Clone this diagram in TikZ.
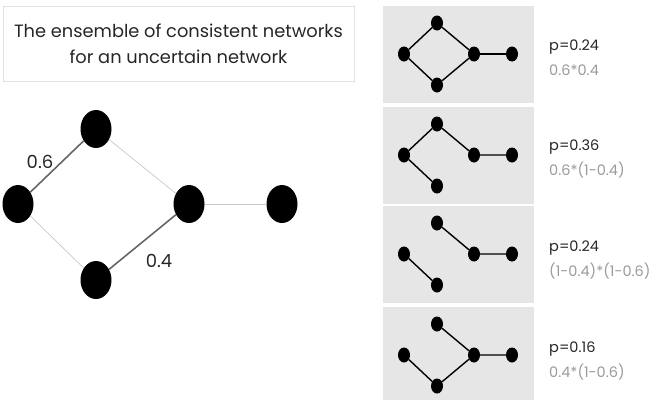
\documentclass[tikz,border=0pt]{standalone}
\usepackage{fontspec}
\setmainfont{Poppins}
\usepackage{xcolor}
\usetikzlibrary{positioning,shapes.geometric}

\definecolor{panelgray}{HTML}{E6E6E6}
\definecolor{boxgray}{HTML}{E2E2E2}
\definecolor{lightedge}{HTML}{C8C8C8}
\definecolor{darkedge}{HTML}{666666}
\definecolor{formulagray}{HTML}{9A9A9A}

\begin{document}
\begin{tikzpicture}[x=1pt, y=-1pt,
  big/.style={ellipse, fill=black, inner sep=0pt, minimum width=31pt, minimum height=38pt},
  small/.style={ellipse, fill=black, inner sep=0pt, minimum width=12pt, minimum height=15pt},
  weak/.style={draw=lightedge, line width=0.7pt},
  strong/.style={draw=darkedge, line width=1.6pt},
  kept/.style={draw=black, line width=1.4pt},
  panel/.style={fill=panelgray, inner sep=0pt, minimum width=151pt, minimum height=97pt},
  prob/.style={anchor=west, inner sep=0pt, font=\fontsize{14.5}{16}\selectfont, text=black!85},
  formula/.style={anchor=west, inner sep=0pt, font=\fontsize{14.5}{16}\selectfont, text=formulagray}]
\useasboundingbox (0,0) rectangle (658,399);

% title
\node[draw=boxgray, line width=0.8pt, minimum width=351pt, minimum height=75pt, align=center,
  font=\fontsize{17.8}{26}\selectfont, text=black!85] (title) at (178.5,43.5)
  {The ensemble of consistent networks\\for an uncertain network};

% uncertain network
\node[big] (L) at (18,204) {};
\node[big] (T) at (96,129) {};
\node[big] (B) at (96,280) {};
\node[big] (M) at (189,204) {};
\node[big] (R) at (282,204) {};
\draw[strong] (L) -- (T);
\draw[strong] (B) -- (M);
\draw[weak] (T) -- (M);
\draw[weak] (L) -- (B);
\draw[weak] (M) -- (R);
\node[font=\fontsize{18}{20}\selectfont, text=black!85] (w1) at (40,162) {0.6};
\node[font=\fontsize{18}{20}\selectfont, text=black!85] (w2) at (159,261) {0.4};

% panel 1
\node[panel] (P1) at (458.5,54.5) {};
\node[small] (P1L) at (404,54) {};
\node[small] (P1T) at (437,23) {};
\node[small] (P1B) at (437,85) {};
\node[small] (P1M) at (474,54) {};
\node[small] (P1R) at (512,54) {};
\draw[kept] (P1L) -- (P1T) -- (P1M) -- (P1B) -- (P1L);
\draw[kept] (P1M) -- (P1R);
\node[prob] (p1) at (549,47) {p=0.24};
\node[formula] (f1) at (549,70) {0.6*0.4};

% panel 2
\node[panel] (P2) at (458.5,155.5) {};
\node[small] (P2L) at (404,155) {};
\node[small] (P2T) at (437,124) {};
\node[small] (P2B) at (437,186) {};
\node[small] (P2M) at (474,155) {};
\node[small] (P2R) at (512,155) {};
\draw[kept] (P2B) -- (P2L) -- (P2T) -- (P2M) -- (P2R);
\node[prob] (p2) at (549,147) {p=0.36};
\node[formula] (f2) at (549,170) {0.6*(1-0.4)};

% panel 3
\node[panel] (P3) at (458.5,254.5) {};
\node[small] (P3L) at (404,254) {};
\node[small] (P3T) at (437,223) {};
\node[small] (P3B) at (437,285) {};
\node[small] (P3M) at (474,254) {};
\node[small] (P3R) at (512,254) {};
\draw[kept] (P3L) -- (P3B);
\draw[kept] (P3T) -- (P3M) -- (P3R);
\node[prob] (p3) at (549,248) {p=0.24};
\node[formula] (f3) at (549,271) {(1-0.4)*(1-0.6)};

% panel 4
\node[panel] (P4) at (458.5,355.5) {};
\node[small] (P4L) at (404,355) {};
\node[small] (P4T) at (437,324) {};
\node[small] (P4B) at (437,386) {};
\node[small] (P4M) at (474,355) {};
\node[small] (P4R) at (512,355) {};
\draw[kept] (P4L) -- (P4B) -- (P4M) -- (P4R);
\draw[kept] (P4T) -- (P4M);
\node[prob] (p4) at (549,349) {p=0.16};
\node[formula] (f4) at (549,372) {0.4*(1-0.6)};
\end{tikzpicture}
\end{document}
